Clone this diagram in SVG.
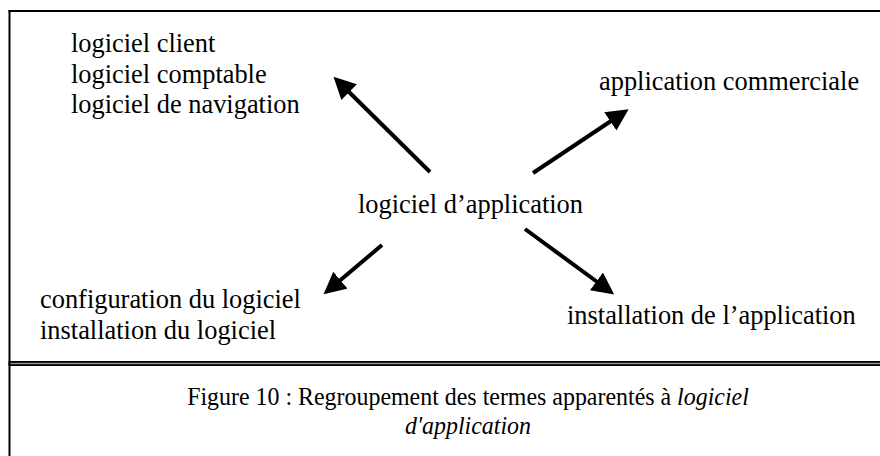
<svg xmlns="http://www.w3.org/2000/svg" width="880" height="456" viewBox="0 0 880 456">
  <style>
    .lbl { font-family: "Liberation Serif", "Times New Roman", serif; font-size: 26.4px; fill: #000; }
    .cap { font-family: "Liberation Serif", "Times New Roman", serif; font-size: 26px; fill: #000; }
    .edge { stroke: #000; stroke-width: 4; fill: none; marker-end: url(#head); }
  </style>
  <defs>
    <marker id="head" viewBox="0 0 10 10" refX="2" refY="5" markerWidth="5.5" markerHeight="5.5" orient="auto" markerUnits="strokeWidth">
      <path d="M0,0 L10,5 L0,10 z" fill="#000"/>
    </marker>
  </defs>
  <rect x="0" y="0" width="880" height="456" fill="#fff"/>

  <!-- frame: top rule, left rule, double rule above the caption -->
  <g id="frame">
    <rect x="8.5" y="10" width="871.5" height="2" fill="#000"/>
    <rect x="8.5" y="10" width="2" height="446" fill="#000"/>
    <rect x="8.5" y="361" width="871.5" height="5" fill="#000"/>
    <rect x="10.5" y="362.8" width="869.5" height="1.4" fill="#999"/>
  </g>

  <g id="connectors">
    <line class="edge" x1="430" y1="172" x2="346" y2="89"/>
    <line class="edge" x1="533" y1="173" x2="614" y2="119"/>
    <line class="edge" x1="382" y1="245" x2="337" y2="283"/>
    <line class="edge" x1="525" y1="229" x2="600" y2="284"/>
  </g>

  <g id="center">
    <text class="lbl" x="358" y="213">logiciel d’application</text>
  </g>
  <g id="top-left">
    <text class="lbl" x="71" y="52">logiciel client</text>
    <text class="lbl" x="71" y="83">logiciel comptable</text>
    <text class="lbl" x="71" y="113">logiciel de navigation</text>
  </g>
  <g id="top-right">
    <text class="lbl" x="599" y="90">application commerciale</text>
  </g>
  <g id="bottom-left">
    <text class="lbl" x="40" y="308">configuration du logiciel</text>
    <text class="lbl" x="40" y="339">installation du logiciel</text>
  </g>
  <g id="bottom-right">
    <text class="lbl" x="567" y="324">installation de l’application</text>
  </g>

  <!-- caption set in a slightly condensed face -->
  <g id="caption" transform="translate(468,0) scale(0.92,1)">
    <text class="cap" x="0" y="405" text-anchor="middle">Figure 10 : Regroupement des termes apparentés à <tspan font-style="italic">logiciel</tspan></text>
    <text class="cap" x="0" y="434" text-anchor="middle" font-style="italic">d'application</text>
  </g>
</svg>
